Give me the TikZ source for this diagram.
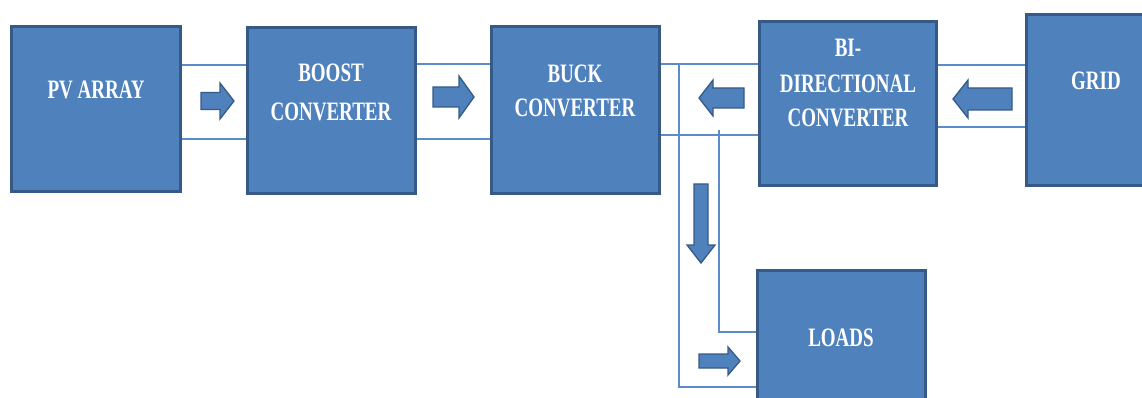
\documentclass[tikz,border=0pt]{standalone}
\usepackage{fontspec}
\setmainfont{Liberation Serif}
\usepackage{graphicx}
\definecolor{boxfill}{HTML}{4F81BD}
\definecolor{boxline}{HTML}{365A88}
\definecolor{wirecol}{HTML}{5B8BC8}
\newcommand\stt[1]{\scalebox{1}[1.4]{#1}}
\pgfdeclarelayer{bg}
\pgfsetlayers{bg,main}
\begin{document}
\begin{tikzpicture}[x=1pt,y=-1pt,
  box/.style={draw=boxline, fill=boxfill, line width=3pt, inner sep=0pt, outer sep=0pt},
  txt/.style={text=white, font=\bfseries\fontsize{19}{23}\selectfont, anchor=base, inner sep=0pt},
  wire/.style={draw=wirecol, line width=1.5pt},
  barrow/.style={fill=boxfill, draw=boxline, line width=1.3pt, line join=miter}]
\useasboundingbox (0,0) rectangle (1142,398);
\clip (0,0) rectangle (1142,398);
% boxes
\node[box, minimum width=169, minimum height=165] (pv) at (96,109) {};
\node[box, minimum width=168, minimum height=166] (boost) at (331.5,110.5) {};
\node[box, minimum width=168, minimum height=167] (buck) at (575.5,110) {};
\node[box, minimum width=177, minimum height=164] (bi) at (848,103.5) {};
\node[box, minimum width=139, minimum height=171] (grid) at (1096,100) {};
\node[box, minimum width=168, minimum height=159] (loads) at (841.5,350) {};
% texts
\node[txt] (pvt) at (96,99) {\stt{PV ARRAY}};
\node[txt] (boostt1) at (331,82) {\stt{BOOST}};
\node[txt] (boostt2) at (331,121) {\stt{CONVERTER}};
\node[txt] (buckt1) at (575,83) {\stt{BUCK}};
\node[txt] (buckt2) at (575,117) {\stt{CONVERTER}};
\node[txt] (bit1) at (848,57) {\stt{BI-}};
\node[txt] (bit2) at (848,93) {\stt{DIRECTIONAL}};
\node[txt] (bit3) at (848,127) {\stt{CONVERTER}};
\node[txt] (gridt) at (1096,90) {\stt{GRID}};
\node[txt] (loadst) at (841,346) {\stt{LOADS}};
% wires
\coordinate (ta) at (679,64);
\coordinate (tb) at (719,130);
\begin{pgfonlayer}{bg}
\draw[wire] (pv.east |- 0,65) -- (boost.west |- 0,65);
\draw[wire] (pv.east |- 0,139) -- (boost.west |- 0,139);
\draw[wire] (boost.east |- 0,64) -- (buck.west |- 0,64);
\draw[wire] (boost.east |- 0,139) -- (buck.west |- 0,139);
\draw[wire] (buck.east |- 0,64) -- (bi.west |- 0,64);
\draw[wire] (buck.east |- 0,135) -- (bi.west |- 0,135);
\draw[wire] (ta) |- (loads.west |- 0,387);
\draw[wire] (tb) |- (loads.west |- 0,332);
\draw[wire] (bi.east |- 0,65) -- (grid.west |- 0,65);
\draw[wire] (bi.east |- 0,127) -- (grid.west |- 0,127);
\end{pgfonlayer}
% block arrows
\draw[barrow] (201,92.5)--(220,92.5)--(220,83)--(234,101)--(220,119)--(220,109.5)--(201,109.5)--cycle;
\draw[barrow] (433,87)--(459,87)--(459,76)--(474,97)--(459,118)--(459,107)--(433,107)--cycle;
\draw[barrow] (744,88)--(713,88)--(713,80)--(699,98)--(713,116)--(713,108)--(744,108)--cycle;
\draw[barrow] (1012,88)--(968,88)--(968,80)--(953,99)--(968,118)--(968,110)--(1012,110)--cycle;
\draw[barrow] (694,184)--(694,245)--(687,245)--(701,263)--(715,245)--(708,245)--(708,184)--cycle;
\draw[barrow] (699,354)--(728,354)--(728,347)--(740,361)--(728,375)--(728,368)--(699,368)--cycle;
\end{tikzpicture}
\end{document}
